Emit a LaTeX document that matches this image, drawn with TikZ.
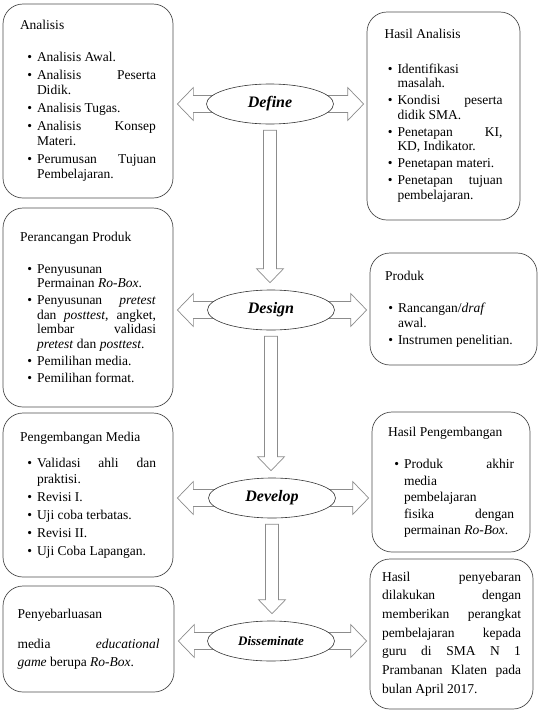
\documentclass[tikz,border=0pt]{standalone}
\usepackage{fontspec}
\setmainfont{Liberation Serif}
\usepackage{enumitem}
\usetikzlibrary{shapes.geometric,calc,backgrounds}
\setlist[itemize]{nosep,label=\textbullet,labelsep=5pt,itemsep=2.5pt}
\hyphenpenalty=10000
\exhyphenpenalty=10000
\tolerance=10000
\hbadness=10000

\begin{document}
\begin{tikzpicture}[
    x=1pt, y=-1pt,
    box/.style={rectangle, draw=black!70, line width=0.7pt, rounded corners=20pt, align=justify, font=\fontsize{13.5}{14.5}\selectfont},
    phase/.style={ellipse, draw=black!80, line width=0.6pt, fill=white, minimum width=127pt, minimum height=40pt, inner sep=0pt, font=\fontsize{16}{18}\selectfont\bfseries\itshape},
    blockarrow/.style={draw=black!45, line width=0.7pt, fill=white, line join=miter}
]
\useasboundingbox (0,0) rectangle (540,710);

% tahap
\node[phase] (define) at (270,104) {Define};
\node[phase] (design) at (271,310) {Design};
\node[phase] (develop) at (272,498) {Develop};
\node[phase, font=\fontsize{13}{15}\selectfont\bfseries\itshape] (disseminate) at (271,641) {Disseminate};

% kiri
\node[box, text width=136pt, inner xsep=17pt, minimum height=194pt, font=\fontsize{13.5}{15.3}\selectfont] (analisis) at (88,101) {Analisis\par\vspace{17pt}
\begin{itemize}[leftmargin=17pt]
\item Analisis Awal.
\item Analisis Peserta \linebreak Didik.
\item Analisis Tugas.
\item Analisis Konsep \linebreak Materi.
\item Perumusan Tujuan \linebreak Pembelajaran.
\end{itemize}};
\node[box, text width=136pt, inner xsep=17pt, minimum height=199pt] (rancangan) at (88,307.5) {Perancangan Produk\par\vspace{17pt}
\begin{itemize}[leftmargin=17pt]
\item Penyusunan \newline Permainan \textit{Ro-Box}.
\item Penyusunan \textit{pretest} \linebreak dan \textit{posttest}, angket, \linebreak lembar validasi \linebreak \textit{pretest} dan \textit{posttest}.
\item Pemilihan media.
\item Pemilihan format.
\end{itemize}};
\node[box, text width=136pt, inner xsep=17pt, minimum height=164pt, font=\fontsize{13.5}{15.5}\selectfont] (pengembangan) at (88,495) {Pengembangan Media\par\vspace{11pt}
\begin{itemize}[leftmargin=17pt]
\item Validasi ahli dan \linebreak praktisi.
\item Revisi I.
\item Uji coba terbatas.
\item Revisi II.
\item Uji Coba Lapangan.
\end{itemize}};
\node[box, text width=142pt, inner xsep=14.5pt, minimum height=106pt, font=\fontsize{13.5}{18}\selectfont] (sebar) at (88.5,639) {Penyebarluasan\par\vspace{12pt}
media \textit{educational} \linebreak \textit{game} berupa \textit{Ro-Box}.\par\vspace{4pt}};

% kanan
\node[box, text width=118pt, inner xsep=17.5pt, minimum height=208pt] (hasilanalisis) at (443.5,116) {Hasil Analisis\par\vspace{20pt}
\begin{itemize}[leftmargin=13pt]
\item Identifikasi \newline masalah.
\item Kondisi peserta \linebreak didik SMA.
\item Penetapan KI, \linebreak KD, Indikator.
\item Penetapan materi.
\item Penetapan tujuan \linebreak pembelajaran.
\end{itemize}};
\node[box, text width=137pt, inner xsep=15pt, minimum height=112pt] (produk) at (453.5,309) {Produk\par\vspace{18pt}
\begin{itemize}[leftmargin=13pt]
\item Rancangan/\textit{draf} \newline awal.
\item Instrumen penelitian.
\end{itemize}};
\node[box, text width=126pt, inner xsep=16pt, minimum height=140pt, font=\fontsize{13.5}{16.5}\selectfont] (hasilkembang) at (451,482) {Hasil Pengembangan\par\vspace{16pt}
\begin{itemize}[leftmargin=16pt]
\item Produk akhir \linebreak media \newline pembelajaran \newline fisika dengan \linebreak permainan \textit{Ro-Box}.
\end{itemize}};
\node[box, text width=139pt, inner xsep=12pt, minimum height=150pt, font=\fontsize{13.5}{18.7}\selectfont] (hasilsebar) at (451.5,634) {Hasil penyebaran \linebreak dilakukan dengan \linebreak memberikan perangkat \linebreak pembelajaran kepada \linebreak guru di SMA N 1 \linebreak Prambanan Klaten pada \linebreak bulan April 2017.};

\begin{pgfonlayer}{background}
% panah kiri-kanan
\foreach \e/\l/\r in {define/analisis/hasilanalisis, design/rancangan/produk, develop/pengembangan/hasilkembang, disseminate/sebar/hasilsebar}
  \draw[blockarrow] let \p1=(\e.center), \p2=(\l.east), \p3=(\r.west) in
    (\x2+20pt,\y1+8.5pt) -- (\x3-19pt,\y1+8.5pt) -- (\x3-19pt,\y1+16.5pt) -- (\x3-3pt,\y1)
    -- (\x3-19pt,\y1-16.5pt) -- (\x3-19pt,\y1-8.5pt) -- (\x2+20pt,\y1-8.5pt)
    -- (\x2+20pt,\y1-16.5pt) -- (\x2+4pt,\y1) -- (\x2+20pt,\y1+16.5pt) -- cycle;
% panah ke bawah
\foreach \a/\b in {define/design, design/develop, develop/disseminate}
  \draw[blockarrow] let \p1=(\a.south), \p2=(\b.north) in
    (\x1-6.5pt,\y1-6pt) -- (\x1+6.5pt,\y1-6pt) -- (\x1+6.5pt,\y2+21pt) -- (\x1+13.5pt,\y2+21pt)
    -- (\x1,\y2+7pt) -- (\x1-13.5pt,\y2+21pt) -- (\x1-6.5pt,\y2+21pt) -- cycle;
\end{pgfonlayer}
\end{tikzpicture}
\end{document}
